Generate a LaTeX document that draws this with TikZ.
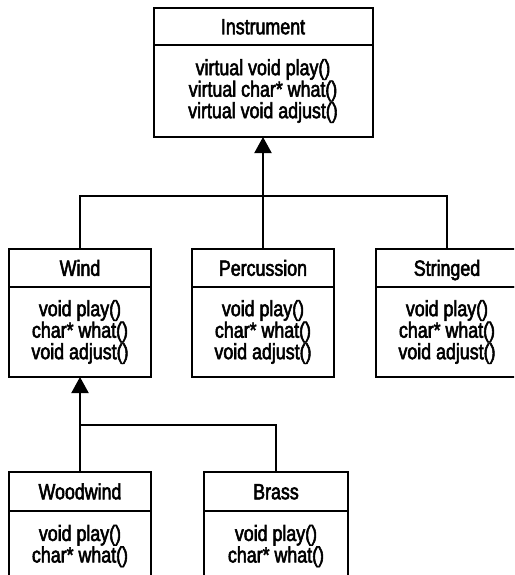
\documentclass[tikz,border=0pt]{standalone}
\usepackage{fontspec}
\setmainfont[FakeStretch=0.81,FakeBold=2.5]{Liberation Sans}
\usetikzlibrary{arrows.meta}
\begin{document}
\begin{tikzpicture}[x=1pt,y=-1pt,
  box/.style={draw=black,line width=2pt,inner sep=0pt,outer sep=0pt,align=center,
    font=\fontsize{22}{20}\selectfont},
  headbox/.style={box,minimum height=37pt,text height=15.5pt,text depth=0pt},
  bodybox/.style={box,minimum height=91pt},
  wire/.style={draw=black,line width=2pt},
  inherit/.style={wire,-{Triangle[length=16pt,width=17pt]}}]
\useasboundingbox (0,0) rectangle (514,575);
\clip (0,0) rectangle (514,575);
% Instrument
\node[headbox,minimum width=219pt] (instH) at (263,26.5) {Instrument};
\node[bodybox,minimum width=219pt,minimum height=92pt] (instB) at (263,91)
  {virtual void play()\\virtual char* what()\\virtual void adjust()};
% Wind
\node[headbox,minimum width=142pt,minimum height=38pt] (windH) at (80,268) {Wind};
\node[bodybox,minimum width=142pt,minimum height=90pt] (windB) at (80,332)
  {void play()\\char* what()\\void adjust()};
% Percussion
\node[headbox,minimum width=142pt,minimum height=38pt] (percH) at (263,268) {Percussion};
\node[bodybox,minimum width=142pt,minimum height=90pt] (percB) at (263,332)
  {void play()\\char* what()\\void adjust()};
% Stringed
\node[headbox,minimum width=142pt,minimum height=38pt] (strH) at (447,268) {Stringed};
\node[bodybox,minimum width=142pt,minimum height=90pt] (strB) at (447,332)
  {void play()\\char* what()\\void adjust()};
% Woodwind
\node[headbox,minimum width=142pt,minimum height=39pt] (woodH) at (80,491.5) {Woodwind};
\node[bodybox,minimum width=142pt,minimum height=70pt] (woodB) at (80,546)
  {void play()\\char* what()};
% Brass
\node[headbox,minimum width=144pt,minimum height=39pt] (brassH) at (276,491.5) {Brass};
\node[bodybox,minimum width=144pt,minimum height=70pt] (brassB) at (276,546)
  {void play()\\char* what()};
% connectors
\coordinate (j1) at (263,196);
\coordinate (j2) at (80,425);
\draw[inherit] (percH.north) -- (instB.south);
\draw[wire] (windH.north) |- (j1) -| (strH.north);
\draw[inherit] (woodH.north) -- (windB.south);
\draw[wire] (j2) -| (brassH.north);
\end{tikzpicture}
\end{document}
